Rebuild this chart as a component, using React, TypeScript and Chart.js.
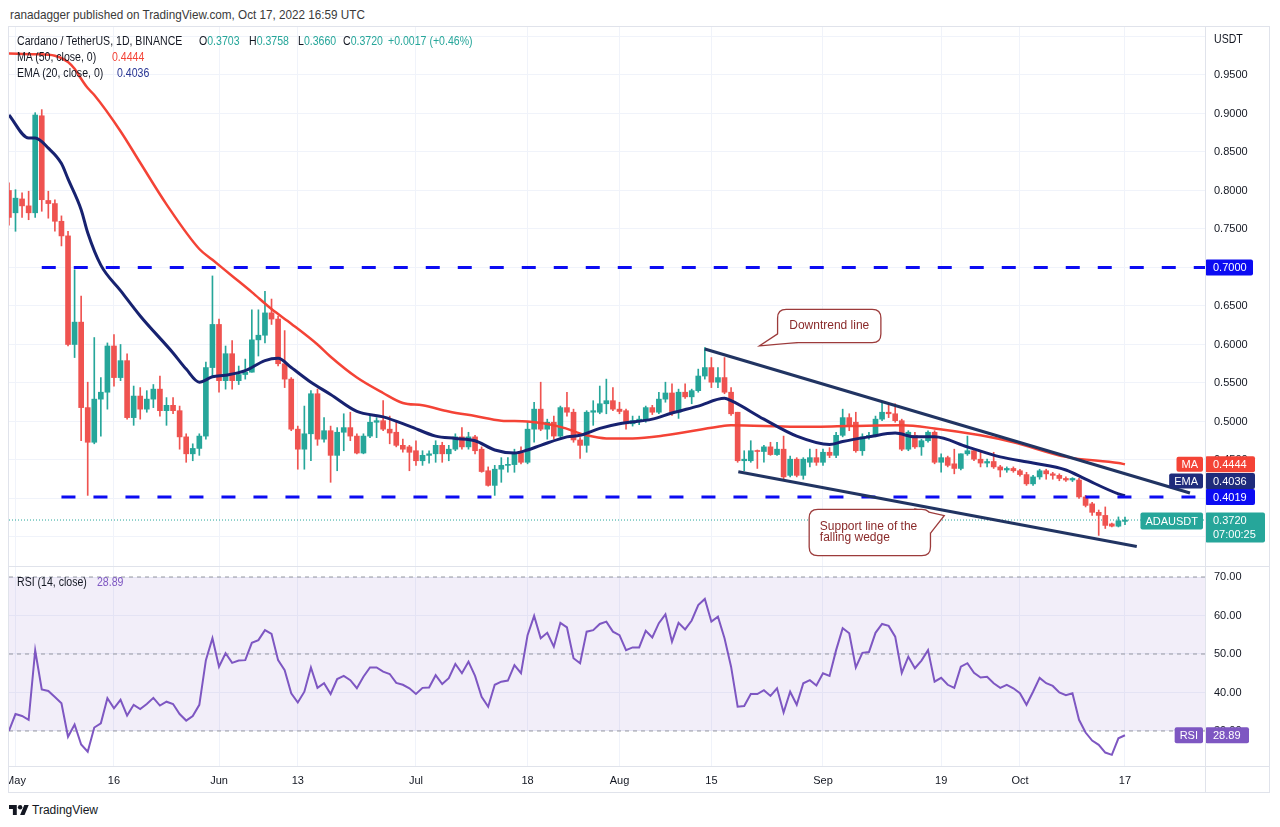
import React, { useEffect, useRef } from "react";
import { Chart, registerables } from "chart.js";

Chart.register(...registerables);

// ---------------- DATA ----------------
// day index: 0 = 1 May 2022 ; first candle = 30 Apr 2022 (index -1)
const firstCandleDay = -1;

const opens = [
  0.800, 0.771, 0.789, 0.780, 0.771, 0.897, 0.787, 0.783, 0.760, 0.741,
  0.600, 0.629, 0.518, 0.473, 0.529, 0.538, 0.598, 0.557, 0.579, 0.505,
  0.533, 0.516, 0.529, 0.542, 0.514, 0.521, 0.514, 0.480, 0.458, 0.465,
  0.481, 0.570, 0.626, 0.553, 0.588, 0.553, 0.561, 0.564, 0.606, 0.612,
  0.641, 0.633, 0.575, 0.555, 0.490, 0.464, 0.484, 0.536, 0.477, 0.488,
  0.456, 0.486, 0.492, 0.481, 0.459, 0.481, 0.499, 0.501, 0.490, 0.486,
  0.469, 0.467, 0.462, 0.449, 0.456, 0.458, 0.469, 0.458, 0.464, 0.480,
  0.467, 0.480, 0.464, 0.436, 0.417, 0.438, 0.443, 0.444, 0.459, 0.447,
  0.490, 0.516, 0.490, 0.499, 0.481, 0.518, 0.512, 0.476, 0.469, 0.512,
  0.512, 0.523, 0.527, 0.516, 0.514, 0.497, 0.501, 0.501, 0.518, 0.512,
  0.529, 0.537, 0.512, 0.538, 0.532, 0.540, 0.559, 0.570, 0.551, 0.557,
  0.538, 0.512, 0.449, 0.449, 0.462, 0.461, 0.467, 0.457, 0.464, 0.430,
  0.451, 0.430, 0.447, 0.453, 0.447, 0.460, 0.456, 0.482, 0.505, 0.499,
  0.462, 0.480, 0.482, 0.503, 0.512, 0.510, 0.501, 0.464, 0.482, 0.467,
  0.475, 0.486, 0.447, 0.453, 0.445, 0.439, 0.458, 0.462, 0.451, 0.446,
  0.448, 0.441, 0.437, 0.439, 0.436, 0.431, 0.419, 0.428, 0.436, 0.432,
  0.430, 0.426, 0.424, 0.424, 0.402, 0.393, 0.382, 0.378, 0.367, 0.364,
  0.3703,
];

const highs = [
  0.810, 0.801, 0.797, 0.799, 0.901, 0.905, 0.799, 0.788, 0.767, 0.747,
  0.697, 0.663, 0.551, 0.609, 0.557, 0.602, 0.613, 0.600, 0.588, 0.546,
  0.544, 0.540, 0.548, 0.559, 0.531, 0.531, 0.520, 0.484, 0.471, 0.484,
  0.577, 0.689, 0.633, 0.598, 0.605, 0.572, 0.581, 0.645, 0.645, 0.669,
  0.659, 0.637, 0.618, 0.557, 0.494, 0.520, 0.540, 0.542, 0.505, 0.494,
  0.492, 0.510, 0.512, 0.484, 0.484, 0.507, 0.505, 0.527, 0.507, 0.499,
  0.477, 0.469, 0.475, 0.462, 0.462, 0.475, 0.473, 0.469, 0.484, 0.492,
  0.486, 0.482, 0.467, 0.441, 0.443, 0.453, 0.453, 0.464, 0.467, 0.499,
  0.525, 0.551, 0.503, 0.507, 0.520, 0.538, 0.516, 0.479, 0.514, 0.527,
  0.546, 0.555, 0.544, 0.525, 0.516, 0.507, 0.507, 0.520, 0.521, 0.538,
  0.551, 0.549, 0.542, 0.549, 0.542, 0.568, 0.596, 0.583, 0.570, 0.583,
  0.544, 0.512, 0.462, 0.475, 0.463, 0.469, 0.473, 0.473, 0.481, 0.455,
  0.453, 0.453, 0.464, 0.464, 0.464, 0.466, 0.486, 0.516, 0.510, 0.512,
  0.484, 0.486, 0.507, 0.525, 0.523, 0.523, 0.503, 0.488, 0.486, 0.477,
  0.488, 0.488, 0.458, 0.455, 0.464, 0.458, 0.481, 0.464, 0.460, 0.451,
  0.460, 0.443, 0.441, 0.441, 0.438, 0.434, 0.430, 0.438, 0.438, 0.434,
  0.432, 0.428, 0.427, 0.426, 0.404, 0.395, 0.385, 0.389, 0.368, 0.376,
  0.3758,
];

const lows = [
  0.755, 0.747, 0.765, 0.762, 0.765, 0.773, 0.764, 0.747, 0.728, 0.598,
  0.583, 0.475, 0.404, 0.471, 0.481, 0.516, 0.546, 0.553, 0.503, 0.495,
  0.503, 0.512, 0.518, 0.507, 0.495, 0.510, 0.464, 0.447, 0.449, 0.456,
  0.477, 0.559, 0.538, 0.542, 0.542, 0.548, 0.555, 0.564, 0.585, 0.602,
  0.626, 0.572, 0.544, 0.488, 0.438, 0.438, 0.449, 0.469, 0.473, 0.421,
  0.436, 0.462, 0.475, 0.458, 0.458, 0.479, 0.479, 0.488, 0.471, 0.467,
  0.460, 0.436, 0.443, 0.443, 0.446, 0.447, 0.447, 0.449, 0.462, 0.464,
  0.464, 0.458, 0.434, 0.416, 0.404, 0.421, 0.434, 0.434, 0.445, 0.445,
  0.473, 0.488, 0.477, 0.477, 0.479, 0.507, 0.473, 0.452, 0.460, 0.495,
  0.510, 0.510, 0.514, 0.510, 0.490, 0.494, 0.496, 0.499, 0.509, 0.510,
  0.525, 0.508, 0.504, 0.530, 0.523, 0.538, 0.555, 0.544, 0.544, 0.536,
  0.508, 0.447, 0.436, 0.447, 0.439, 0.447, 0.456, 0.456, 0.425, 0.428,
  0.428, 0.425, 0.441, 0.443, 0.443, 0.453, 0.453, 0.480, 0.488, 0.460,
  0.456, 0.477, 0.480, 0.501, 0.505, 0.499, 0.462, 0.462, 0.465, 0.456,
  0.473, 0.445, 0.434, 0.441, 0.432, 0.437, 0.456, 0.449, 0.441, 0.441,
  0.439, 0.428, 0.434, 0.434, 0.429, 0.417, 0.417, 0.425, 0.425, 0.425,
  0.423, 0.422, 0.422, 0.400, 0.389, 0.378, 0.352, 0.361, 0.363, 0.363,
  0.3660,
];

const closes = [
  0.765, 0.790, 0.780, 0.771, 0.898, 0.788, 0.783, 0.760, 0.741, 0.600,
  0.629, 0.518, 0.473, 0.529, 0.538, 0.598, 0.557, 0.579, 0.505, 0.533,
  0.516, 0.529, 0.542, 0.514, 0.521, 0.514, 0.480, 0.458, 0.465, 0.481,
  0.570, 0.626, 0.553, 0.588, 0.553, 0.561, 0.564, 0.606, 0.612, 0.641,
  0.633, 0.575, 0.555, 0.490, 0.464, 0.484, 0.536, 0.477, 0.488, 0.456,
  0.486, 0.492, 0.481, 0.459, 0.481, 0.499, 0.501, 0.490, 0.485, 0.469,
  0.464, 0.460, 0.449, 0.456, 0.458, 0.469, 0.458, 0.464, 0.480, 0.467,
  0.480, 0.462, 0.435, 0.417, 0.438, 0.443, 0.444, 0.459, 0.447, 0.490,
  0.516, 0.490, 0.499, 0.481, 0.518, 0.512, 0.476, 0.469, 0.512, 0.514,
  0.523, 0.527, 0.516, 0.513, 0.497, 0.501, 0.503, 0.518, 0.512, 0.529,
  0.537, 0.512, 0.538, 0.532, 0.540, 0.559, 0.570, 0.551, 0.557, 0.538,
  0.510, 0.449, 0.451, 0.462, 0.461, 0.467, 0.457, 0.464, 0.428, 0.451,
  0.430, 0.451, 0.453, 0.447, 0.460, 0.456, 0.482, 0.505, 0.494, 0.462,
  0.480, 0.482, 0.503, 0.512, 0.510, 0.501, 0.464, 0.486, 0.467, 0.475,
  0.486, 0.447, 0.453, 0.443, 0.439, 0.458, 0.462, 0.451, 0.446, 0.448,
  0.441, 0.437, 0.439, 0.436, 0.431, 0.419, 0.428, 0.436, 0.432, 0.430,
  0.426, 0.424, 0.426, 0.402, 0.391, 0.382, 0.378, 0.365, 0.364, 0.371,
  0.3720,
];

const ma50Days = [
  -1, 3, 6, 8, 9, 10, 11, 12, 16, 19, 23, 28, 30, 33, 36, 39, 42, 46, 48, 52, 56, 59,
  62, 66, 70, 74, 78, 83, 87, 90, 94, 99, 107, 109, 119, 127, 135, 140, 147, 152, 160, 168, 169,
];
const ma50Values = [
  0.978, 0.977, 0.975, 0.967, 0.958, 0.945, 0.933, 0.924, 0.877, 0.836, 0.782, 0.724, 0.710,
  0.689, 0.668, 0.646, 0.627, 0.600, 0.584, 0.557, 0.537, 0.524, 0.521, 0.513, 0.507, 0.501,
  0.500, 0.493, 0.482, 0.478, 0.478, 0.482, 0.493, 0.495, 0.493, 0.494, 0.495, 0.491, 0.482,
  0.473, 0.454, 0.446, 0.4444,
];

const ema20Days = [
  -1, 2, 3, 5, 7, 8, 10, 11, 13, 16, 19, 24, 26, 28, 30, 32, 35, 38, 40, 42, 45, 48, 52, 56,
  60, 64, 67, 70, 73, 76, 78, 80, 84, 86, 89, 92, 97, 100, 104, 108, 109, 114, 119, 124, 126,
  130, 134, 137, 140, 145, 150, 155, 160, 163, 168, 169,
];
const ema20Values = [
  0.898, 0.868, 0.868, 0.855, 0.835, 0.815, 0.775, 0.745, 0.703, 0.670, 0.637, 0.589, 0.568,
  0.551, 0.558, 0.560, 0.566, 0.579, 0.582, 0.570, 0.551, 0.535, 0.513, 0.506, 0.494, 0.481,
  0.478, 0.475, 0.463, 0.459, 0.463, 0.469, 0.480, 0.482, 0.491, 0.497, 0.503, 0.511, 0.520,
  0.530, 0.527, 0.503, 0.481, 0.470, 0.474, 0.480, 0.485, 0.480, 0.480, 0.467, 0.454, 0.446,
  0.437, 0.425, 0.406, 0.4036,
];

const rsiValues = [
  30.0, 34.4, 33.9, 32.9, 50.9, 40.8, 40.4, 38.8, 37.2, 28.5,
  31.7, 26.5, 24.6, 30.9, 32.0, 38.5, 35.9, 38.1, 34.0, 36.8,
  35.7, 37.0, 38.6, 36.6, 37.6, 37.0, 34.4, 32.7, 33.9, 36.8,
  48.4, 54.1, 46.7, 50.2, 47.7, 48.3, 48.4, 52.9, 53.6, 56.2,
  55.2, 48.4, 45.8, 39.8, 37.4, 40.2, 46.5, 41.2, 42.4, 39.6,
  43.5, 44.3, 43.2, 41.1, 44.1, 46.5, 46.5, 45.4, 44.8, 42.5,
  42.0, 41.1, 39.6, 41.2, 41.3, 44.5, 42.2, 43.7, 47.4, 45.0,
  48.0, 44.3, 38.9, 36.3, 42.0, 42.8, 43.1, 47.1, 45.0, 54.9,
  59.9, 54.1, 55.5, 51.9, 58.1, 56.9, 48.9, 47.6, 55.8, 56.2,
  57.8, 58.4, 55.8, 54.9, 51.0, 51.7, 51.7, 56.0, 54.3, 58.0,
  60.3, 53.2, 58.1, 56.4, 58.7, 62.7, 64.3, 58.4, 59.7, 54.1,
  46.7, 36.3, 36.5, 39.6, 39.6, 40.6, 39.1, 41.1, 34.8, 40.2,
  36.8, 42.4, 43.2, 41.8, 45.0, 44.3, 51.0, 56.7, 55.4, 46.5,
  50.3, 50.5, 55.5, 57.8, 57.3, 54.5, 45.1, 49.3, 46.3, 48.3,
  51.0, 42.8, 43.8, 42.0, 41.2, 46.7, 47.6, 45.1, 43.9, 44.1,
  42.4, 41.2, 42.0, 41.1, 39.8, 36.8, 40.2, 43.8, 42.4, 41.7,
  40.0, 39.3, 39.8, 32.9, 29.6, 27.5, 26.4, 24.4, 23.8, 28.1,
  28.89,
];

const dateTickDays = [0, 15, 31, 43, 61, 78, 92, 106, 123, 141, 153, 169];
const dateTickLabels = ["May", "16", "Jun", "13", "Jul", "18", "Aug", "15", "Sep", "19", "Oct", "17"];
const priceTickValues = [0.35, 0.4, 0.45, 0.5, 0.55, 0.6, 0.65, 0.7, 0.75, 0.8, 0.85, 0.9, 0.95, 1.0];
const rsiTickValues = [30, 40, 50, 60, 70];
const rsiLevels = [70, 50, 30];

const resistanceLevel = 0.7;
const resistanceStartDay = 4;
const supportLevel = 0.4019;
const supportStartDay = 7;
const downtrendDays = [105.0, 178.9];
const downtrendPrices = [0.5942, 0.4071];
const wedgeDays = [110.1, 170.8];
const wedgePrices = [0.4348, 0.3377];

const ma50Last = 0.4444;
const ema20Last = 0.4036;
const rsiLast = 28.89;
const lastChange = "+0.0017 (+0.46%)";
const countdown = "07:00:25";

const calloutTexts = [["Downtrend line"], ["Support line of the", "falling wedge"]];
const calloutTipDays = [113.7, 141.3];
const calloutTipPrices = [0.5994, 0.3773];

// visible ranges
const viewDayMin = -0.99;
const viewDayMax = 181.19;
const priceMin = 0.3123;
const priceMax = 1.0136;
const rsiMin = 20.9;
const rsiMax = 72.6;

// ---------------- STYLE ----------------
const FONT = '"Liberation Sans", Arial, Helvetica, sans-serif';
const COL = {
  up: "#26a69a",
  down: "#ef5350",
  ma: "#f44336",
  ema: "#172270",
  emaBox: "#1f2b7b",
  level: "#0c0cf2",
  trend: "#213462",
  rsi: "#7e57c2",
  grid: "#f0f3fa",
  frame: "#e0e3eb",
  text: "#131722",
  calloutBorder: "#9c3b3b",
  calloutText: "#8a2a2a",
};

const calloutShapes = [
  { dx: 16.3, dy: -35, w: 102, h: 32, ax: 18.3, ay: -12, bx: 35, by: -3, align: "center" },
  { dx: -133.3, dy: -6, w: 120, h: 45, ax: -26.6, ay: -6, bx: -13.3, by: 17, align: "left" },
];

function rrect(ctx: CanvasRenderingContext2D, x: number, y: number, w: number, h: number, r: number) {
  ctx.beginPath();
  ctx.moveTo(x + r, y);
  ctx.lineTo(x + w - r, y);
  ctx.quadraticCurveTo(x + w, y, x + w, y + r);
  ctx.lineTo(x + w, y + h - r);
  ctx.quadraticCurveTo(x + w, y + h, x + w - r, y + h);
  ctx.lineTo(x + r, y + h);
  ctx.quadraticCurveTo(x, y + h, x, y + h - r);
  ctx.lineTo(x, y + r);
  ctx.quadraticCurveTo(x, y, x + r, y);
  ctx.closePath();
}

const calloutPlugin = {
  id: "callouts",
  afterDatasetsDraw(chart: any) {
    const ctx: CanvasRenderingContext2D = chart.ctx;
    const xs = chart.scales.x;
    const ys = chart.scales.y;
    calloutTexts.forEach((lines, i) => {
      const s = calloutShapes[i];
      const tx = xs.getPixelForValue(calloutTipDays[i]);
      const ty = ys.getPixelForValue(calloutTipPrices[i]);
      const bx = tx + s.dx;
      const by = ty + s.dy;
      const tri = () => {
        ctx.beginPath();
        ctx.moveTo(tx + s.ax, ty + s.ay);
        ctx.lineTo(tx, ty);
        ctx.lineTo(tx + s.bx, ty + s.by);
        ctx.closePath();
      };
      ctx.save();
      ctx.strokeStyle = COL.calloutBorder;
      ctx.lineWidth = 2.6;
      ctx.lineJoin = "miter";
      rrect(ctx, bx, by, s.w, s.h, 8);
      ctx.stroke();
      tri();
      ctx.stroke();
      ctx.fillStyle = "#ffffff";
      rrect(ctx, bx, by, s.w, s.h, 8);
      ctx.fill();
      tri();
      ctx.fill();
      ctx.fillStyle = COL.calloutText;
      ctx.font = `12px ${FONT}`;
      ctx.textBaseline = "middle";
      if (s.align === "center") {
        ctx.textAlign = "center";
        ctx.fillText(lines[0], bx + s.w / 2, by + s.h / 2);
      } else {
        ctx.textAlign = "left";
        lines.forEach((t, k) => ctx.fillText(t, bx + 10, by + 16.5 + k * 11.5));
      }
      ctx.restore();
    });
  },
};

function drawTag(ctx: CanvasRenderingContext2D, text: string, rightX: number, cy: number, h: number, color: string) {
  const w = ctx.measureText(text).width + 10;
  ctx.fillStyle = color;
  rrect(ctx, rightX - w, cy - h / 2, w, h, 2);
  ctx.fill();
  ctx.fillStyle = "#fff";
  ctx.textAlign = "center";
  ctx.fillText(text, rightX - w / 2, cy + 0.5);
}

function drawValueBox(ctx: CanvasRenderingContext2D, text: string, leftX: number, cy: number, w: number, h: number, color: string) {
  ctx.fillStyle = color;
  rrect(ctx, leftX, cy - h / 2, w, h, 2);
  ctx.fill();
  ctx.fillStyle = "#fff";
  ctx.textAlign = "left";
  ctx.fillText(text, leftX + 8, cy + 0.5);
}

const priceAxisPlugin = {
  id: "priceAxisLabels",
  afterDraw(chart: any) {
    const ctx: CanvasRenderingContext2D = chart.ctx;
    const area = chart.chartArea;
    const ys = chart.scales.y;
    const left = area.right;
    const lastClose = closes[closes.length - 1];
    ctx.save();
    ctx.font = `11px ${FONT}`;
    ctx.textBaseline = "middle";

    const py = ys.getPixelForValue(lastClose);
    ctx.fillStyle = COL.up;
    rrect(ctx, left, py - 7.5, 60, 30, 2);
    ctx.fill();
    ctx.fillStyle = "#fff";
    ctx.textAlign = "left";
    ctx.fillText(lastClose.toFixed(4), left + 8, py + 0.5);
    ctx.fillText(countdown, left + 8, py + 15);
    drawTag(ctx, "ADAUSDT", left - 2, py + 1, 17, COL.up);

    const boxes = [
      { v: supportLevel, color: COL.level, tag: "", tagColor: "" },
      { v: ema20Last, color: COL.emaBox, tag: "EMA", tagColor: COL.emaBox },
      { v: ma50Last, color: COL.ma, tag: "MA", tagColor: COL.ma },
    ]
      .map((b) => ({ ...b, cy: ys.getPixelForValue(b.v) }))
      .sort((a, b) => b.cy - a.cy);
    let limit = py - 7.5;
    boxes.forEach((b) => {
      let cy = b.cy;
      if (cy + 8 > limit) cy = limit - 8;
      limit = cy - 8;
      drawValueBox(ctx, b.v.toFixed(4), left, cy, 50, 16, b.color);
      if (b.tag) drawTag(ctx, b.tag, left - 2, cy, 15, b.tagColor);
    });

    drawValueBox(ctx, resistanceLevel.toFixed(4), left, ys.getPixelForValue(resistanceLevel), 48, 16, COL.level);
    ctx.restore();
  },
};

const rsiBandPlugin = {
  id: "rsiBand",
  beforeDatasetsDraw(chart: any) {
    const ctx: CanvasRenderingContext2D = chart.ctx;
    const area = chart.chartArea;
    const ys = chart.scales.y;
    const top = ys.getPixelForValue(rsiLevels[0]);
    const bot = ys.getPixelForValue(rsiLevels[rsiLevels.length - 1]);
    ctx.save();
    ctx.fillStyle = "rgba(126, 87, 194, 0.1)";
    ctx.fillRect(area.left, top, area.right - area.left, bot - top);
    ctx.restore();
  },
};

const rsiAxisPlugin = {
  id: "rsiAxisLabels",
  afterDraw(chart: any) {
    const ctx: CanvasRenderingContext2D = chart.ctx;
    const area = chart.chartArea;
    const ys = chart.scales.y;
    const cy = ys.getPixelForValue(rsiLast);
    ctx.save();
    ctx.font = `11px ${FONT}`;
    ctx.textBaseline = "middle";
    drawValueBox(ctx, rsiLast.toFixed(2), area.right, cy, 44, 16, COL.rsi);
    drawTag(ctx, "RSI", area.right - 2, cy, 16, COL.rsi);
    ctx.restore();
  },
};

function lineDataset(data: any[], color: string, width: number, order: number, dash: number[] = []) {
  return {
    type: "line",
    data,
    borderColor: color,
    backgroundColor: color,
    borderWidth: width,
    borderDash: dash,
    pointRadius: 0,
    fill: false,
    tension: 0,
    order,
  };
}

function zeroPadding(s: any) {
  s.paddingTop = 0;
  s.paddingBottom = 0;
  s.paddingLeft = 0;
  s.paddingRight = 0;
}

function xScaleBase() {
  return {
    type: "linear",
    min: viewDayMin,
    max: viewDayMax,
    offset: false,
    bounds: "data",
    grid: { color: COL.grid, drawTicks: false, offset: false },
    border: { display: false },
    afterBuildTicks: (s: any) => {
      s.ticks = dateTickDays.map((v) => ({ value: v }));
    },
  };
}

function makePriceChart(canvas: HTMLCanvasElement) {
  const days = opens.map((_, i) => firstCandleDay + i);
  const colors = days.map((_, i) => (closes[i] >= opens[i] ? COL.up : COL.down));
  const wicks = days.map((d, i) => ({ x: d, y: [lows[i], highs[i]] }));
  const bodies = days.map((d, i) => ({ x: d, y: [opens[i], closes[i]] }));
  const lastClose = closes[closes.length - 1];
  const ma = ma50Days.map((d, i) => ({ x: d, y: ma50Values[i] }));
  const ema = ema20Days.map((d, i) => ({ x: d, y: ema20Values[i] }));

  return new Chart(canvas, {
    type: "bar",
    data: {
      datasets: [
        { type: "bar", data: wicks, backgroundColor: colors, barThickness: 1, grouped: false, order: 10 },
        { type: "bar", data: bodies, backgroundColor: colors, barThickness: 5, grouped: false, minBarLength: 1, order: 9 },
        lineDataset([{ x: viewDayMin, y: lastClose }, { x: viewDayMax, y: lastClose }], COL.up, 1, 12, [1, 2]),
        { ...lineDataset(ma, COL.ma, 2.5, 5), cubicInterpolationMode: "monotone" },
        { ...lineDataset(ema, COL.ema, 3, 4), cubicInterpolationMode: "monotone" },
        lineDataset([{ x: resistanceStartDay, y: resistanceLevel }, { x: viewDayMax, y: resistanceLevel }], COL.level, 3, 3, [14, 18]),
        lineDataset([{ x: supportStartDay, y: supportLevel }, { x: viewDayMax, y: supportLevel }], COL.level, 3, 3, [14, 18]),
        lineDataset(downtrendDays.map((d, i) => ({ x: d, y: downtrendPrices[i] })), COL.trend, 3, 2),
        lineDataset(wedgeDays.map((d, i) => ({ x: d, y: wedgePrices[i] })), COL.trend, 3, 2),
      ] as any,
    },
    options: {
      responsive: true,
      maintainAspectRatio: false,
      animation: false,
      events: [],
      layout: { padding: 0, autoPadding: false },
      plugins: { legend: { display: false }, tooltip: { enabled: false } },
      scales: {
        x: {
          ...xScaleBase(),
          ticks: { display: false },
          afterFit: (s: any) => {
            s.height = 0;
            zeroPadding(s);
          },
        },
        y: {
          type: "linear",
          position: "right",
          min: priceMin,
          max: priceMax,
          bounds: "data",
          grid: { color: COL.grid, drawTicks: false },
          border: { display: false },
          ticks: {
            padding: 9,
            color: COL.text,
            font: { family: FONT, size: 11 },
            callback: (v: any) => (Number(v) > 0.97 ? "" : Number(v).toFixed(4)),
          },
          afterBuildTicks: (s: any) => {
            s.ticks = priceTickValues.map((v) => ({ value: v }));
          },
          afterFit: (s: any) => {
            s.width = 64;
            zeroPadding(s);
          },
        },
      },
    } as any,
    plugins: [calloutPlugin, priceAxisPlugin],
  });
}

function makeRsiChart(canvas: HTMLCanvasElement) {
  const rsi = rsiValues.map((v, i) => ({ x: firstCandleDay + i, y: v }));
  return new Chart(canvas, {
    type: "line",
    data: {
      datasets: [
        ...rsiLevels.map((l) =>
          lineDataset([{ x: viewDayMin, y: l }, { x: viewDayMax, y: l }], "#9598a1", 1, 5, [4, 4])
        ),
        lineDataset(rsi, COL.rsi, 2, 1),
      ] as any,
    },
    options: {
      responsive: true,
      maintainAspectRatio: false,
      animation: false,
      events: [],
      layout: { padding: 0, autoPadding: false },
      plugins: { legend: { display: false }, tooltip: { enabled: false } },
      scales: {
        x: {
          ...xScaleBase(),
          ticks: {
            display: true,
            padding: 8,
            color: COL.text,
            autoSkip: false,
            maxRotation: 0,
            font: { family: FONT, size: 11 },
            callback: (_v: any, i: number) => dateTickLabels[i] ?? "",
          },
          afterFit: (s: any) => {
            s.height = 26;
            zeroPadding(s);
          },
        },
        y: {
          type: "linear",
          position: "right",
          min: rsiMin,
          max: rsiMax,
          bounds: "data",
          grid: { color: COL.grid, drawTicks: false },
          border: { display: false },
          ticks: {
            padding: 9,
            color: COL.text,
            font: { family: FONT, size: 11 },
            callback: (v: any) => Number(v).toFixed(2),
          },
          afterBuildTicks: (s: any) => {
            s.ticks = rsiTickValues.map((v) => ({ value: v }));
          },
          afterFit: (s: any) => {
            s.width = 64;
            zeroPadding(s);
          },
        },
      },
    } as any,
    plugins: [rsiBandPlugin, rsiAxisPlugin],
  });
}

function Txt(props: { left: number; top: number; size: number; color?: string; scale?: number; children: any }) {
  const { left, top, size, color = COL.text, scale = 0.88, children } = props;
  return (
    <div
      style={{
        position: "absolute",
        left,
        top,
        fontSize: size,
        lineHeight: "14px",
        color,
        whiteSpace: "nowrap",
        transform: `scaleX(${scale})`,
        transformOrigin: "left center",
        zIndex: 3,
      }}
    >
      {children}
    </div>
  );
}

function Line(props: { left: number; top: number; width: number; height: number }) {
  return (
    <div
      style={{
        position: "absolute",
        left: props.left,
        top: props.top,
        width: props.width,
        height: props.height,
        background: COL.frame,
        zIndex: 2,
      }}
    />
  );
}

export default function App() {
  const priceRef = useRef<HTMLCanvasElement>(null);
  const rsiRef = useRef<HTMLCanvasElement>(null);

  useEffect(() => {
    const pc = makePriceChart(priceRef.current!);
    const rc = makeRsiChart(rsiRef.current!);
    return () => {
      pc.destroy();
      rc.destroy();
    };
  }, []);

  const n = opens.length - 1;
  const teal = COL.up;

  return (
    <div
      style={{
        position: "absolute",
        left: 0,
        top: 0,
        width: 1280,
        height: 827,
        background: "#ffffff",
        fontFamily: FONT,
        overflow: "hidden",
      }}
    >
      <Txt left={10} top={8} size={13} color="#3a3a3a" scale={0.9}>
        ranadagger published on TradingView.com, Oct 17, 2022 16:59 UTC
      </Txt>

      <div style={{ position: "absolute", left: 9, top: 26, width: 1260, height: 540 }}>
        <canvas ref={priceRef} />
      </div>
      <div style={{ position: "absolute", left: 9, top: 567, width: 1260, height: 225 }}>
        <canvas ref={rsiRef} />
      </div>

      <Line left={8} top={26} width={1262} height={1} />
      <Line left={8} top={792} width={1262} height={1} />
      <Line left={8} top={26} width={1} height={767} />
      <Line left={1269} top={26} width={1} height={767} />
      <Line left={8} top={566} width={1262} height={1} />
      <Line left={8} top={766} width={1262} height={1} />
      <Line left={1205} top={26} width={1} height={767} />

      <Txt left={17} top={34} size={12}>Cardano / TetherUS, 1D, BINANCE</Txt>
      <Txt left={199} top={34} size={12}>
        O<span style={{ color: teal }}>{opens[n].toFixed(4)}</span>
      </Txt>
      <Txt left={249} top={34} size={12}>
        H<span style={{ color: teal }}>{highs[n].toFixed(4)}</span>
      </Txt>
      <Txt left={298} top={34} size={12}>
        L<span style={{ color: teal }}>{lows[n].toFixed(4)}</span>
      </Txt>
      <Txt left={343} top={34} size={12}>
        C<span style={{ color: teal }}>{closes[n].toFixed(4)}</span>
      </Txt>
      <Txt left={388} top={34} size={12} color={teal}>{lastChange}</Txt>

      <Txt left={17} top={50} size={12}>MA (50, close, 0)</Txt>
      <Txt left={112} top={50} size={12} color={COL.ma}>{ma50Last.toFixed(4)}</Txt>
      <Txt left={17} top={66} size={12}>EMA (20, close, 0)</Txt>
      <Txt left={117} top={66} size={12} color="#283593">{ema20Last.toFixed(4)}</Txt>

      <Txt left={1214} top={32} size={12}>USDT</Txt>

      <Txt left={17} top={575} size={12}>RSI (14, close)</Txt>
      <Txt left={97} top={575} size={12} color={COL.rsi}>{rsiLast.toFixed(2)}</Txt>

      <svg
        style={{ position: "absolute", left: 9, top: 805 }}
        width={20}
        height={10}
        viewBox="0 4 36 18"
      >
        <path d="M14 22H7V11H0V4h14v18zM28 22h-8l7.5-18h8L28 22z" fill={COL.text} />
        <circle cx={20} cy={8} r={4} fill={COL.text} />
      </svg>
      <Txt left={32} top={803} size={12} scale={1}>TradingView</Txt>
    </div>
  );
}
